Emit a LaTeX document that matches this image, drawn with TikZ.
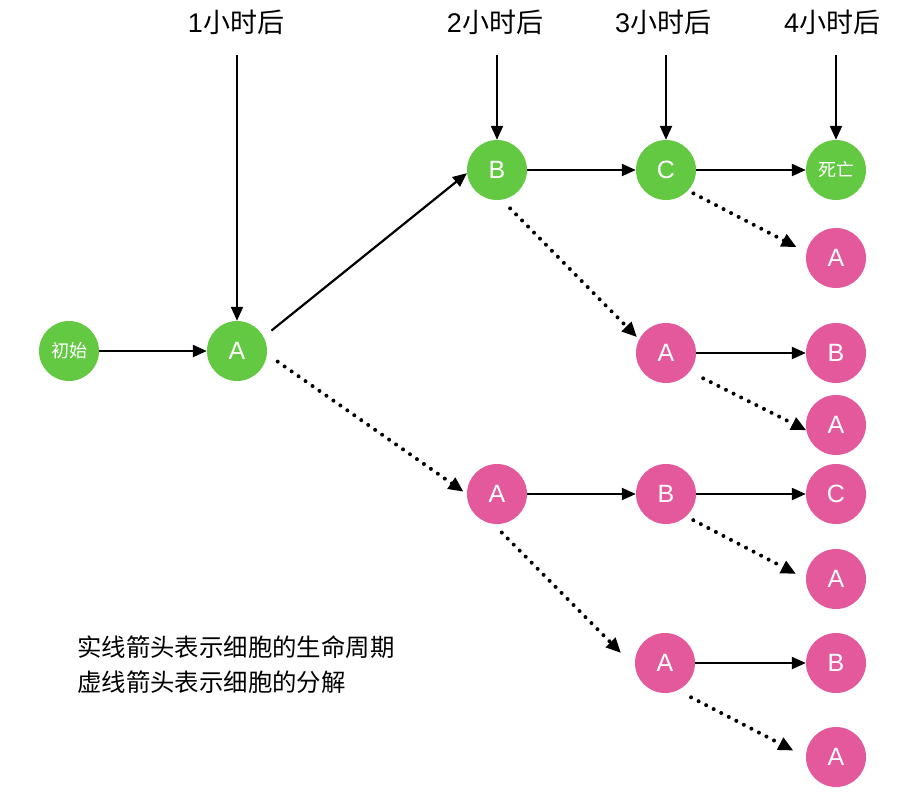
\documentclass[tikz,border=0pt]{standalone}
\usepackage{fontspec}
\setmainfont{Liberation Sans}
\newfontfamily\cjk{Noto Sans CJK SC}
\usetikzlibrary{arrows.meta}
\definecolor{cgreen}{RGB}{100,201,66}
\definecolor{cpink}{RGB}{228,89,155}
\begin{document}
\begin{tikzpicture}[x=1pt,y=-1pt,
  cell/.style={circle,minimum size=60pt,inner sep=0pt,text=white,font=\fontsize{25}{25}\selectfont},
  gcell/.style={cell,fill=cgreen},
  pcell/.style={cell,fill=cpink},
  smalltext/.style={font=\fontsize{18}{18}\selectfont\cjk},
  life/.style={line width=2.2pt,-{Triangle[length=14pt,width=12pt]}},
  split/.style={line width=4pt,line cap=round,dash pattern=on 0pt off 8.5pt,-{Triangle[length=15pt,width=13pt]}},
  hour/.style={font=\fontsize{27}{27}\selectfont,inner sep=0pt},
  legend/.style={font=\fontsize{24.4}{24.4}\selectfont\cjk,inner sep=0pt,anchor=west}]
\useasboundingbox (0,0) rectangle (907,801);
\fill[white] (0,0) rectangle (907,801);

% hour labels
\node[hour] (h1) at (236,22) {1{\cjk 小时后}};
\node[hour] (h2) at (495,22) {2{\cjk 小时后}};
\node[hour] (h3) at (663,22) {3{\cjk 小时后}};
\node[hour] (h4) at (832,22) {4{\cjk 小时后}};
\coordinate (t1) at (237,55);
\coordinate (t2) at (497,55);
\coordinate (t3) at (666,55);
\coordinate (t4) at (836,55);

% cells
\node[gcell,smalltext] (init) at (69,351) {初始};
\node[gcell] (Ag) at (237,351) {A};
\node[gcell] (Bg) at (497,170) {B};
\node[gcell] (Cg) at (666,170) {C};
\node[gcell,smalltext] (D) at (836,170) {死亡};
\node[pcell] (A3) at (836,258) {A};
\node[pcell] (A2) at (666,353) {A};
\node[pcell] (B2) at (836,353) {B};
\node[pcell] (A4) at (836,425) {A};
\node[pcell] (A1) at (497,494) {A};
\node[pcell] (Bp) at (666,494) {B};
\node[pcell] (Cp) at (836,494) {C};
\node[pcell] (A6) at (836,579) {A};
\node[pcell] (A5) at (665,663) {A};
\node[pcell] (B5) at (836,663) {B};
\node[pcell] (A7) at (836,757) {A};

% time arrows
\draw[life] (t1) -- (Ag);
\draw[life] (t2) -- (Bg);
\draw[life] (t3) -- (Cg);
\draw[life] (t4) -- (D);

% life-cycle arrows
\draw[life] (init) -- (Ag);
\draw[life,shorten <=10pt] (Ag.28) -- (Bg.186);
\draw[life] (Bg) -- (Cg);
\draw[life] (Cg) -- (D);
\draw[life] (A2) -- (B2);
\draw[life] (A1) -- (Bp);
\draw[life] (Bp) -- (Cp);
\draw[life] (A5) -- (B5);

% split arrows
\draw[split,shorten <=13pt,shorten >=4pt] (Ag.-6) -- (A1.west);
\draw[split,shorten <=12pt,shorten >=3pt] (Bg.-81) -- (A2.153);
\draw[split,shorten <=6pt,shorten >=11pt] (Cg.-43) -- (A3.169);
\draw[split,shorten <=15pt] (A2.-38) -- (A4.190);
\draw[split,shorten <=12pt,shorten >=20pt] (A1.-97) -- (A5.188);
\draw[split,shorten <=8pt,shorten >=11pt] (Bp.-48) -- (A6.west);
\draw[split,shorten <=15pt,shorten >=14pt] (A5.-65) -- (A7.west);

% legend
\node[legend] (leg1) at (77,647) {实线箭头表示细胞的生命周期};
\node[legend] (leg2) at (77,682) {虚线箭头表示细胞的分解};
\end{tikzpicture}
\end{document}
